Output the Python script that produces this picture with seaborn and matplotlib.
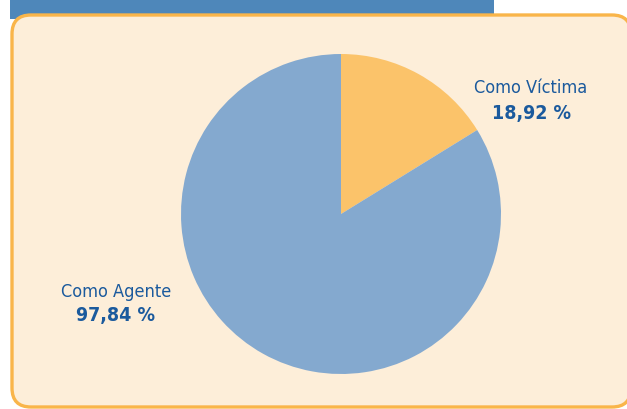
import matplotlib
matplotlib.use("Agg")
import matplotlib.pyplot as plt
from matplotlib.patches import FancyBboxPatch, Rectangle
import seaborn as sns

# data
categories = ["Como Víctima", "Como Agente"]
values = [18.92, 97.84]
value_labels = ["18,92 %", "97,84 %"]
slice_colors = ["#FBC36A", "#84A9CF"]

sns.set_style("white")
plt.rcParams["font.family"] = ["DejaVu Sans"]
plt.rcParams["font.stretch"] = "condensed"

W, H = 627, 410
fig = plt.figure(figsize=(W / 100, H / 100), dpi=100)
fig.patch.set_facecolor("white")

# background: top bar + rounded panel
bg = fig.add_axes([0, 0, 1, 1])
bg.set_xlim(0, W)
bg.set_ylim(H, 0)
bg.axis("off")
bg.add_patch(Rectangle((10, 0), 484, 20, facecolor="#4E87BA", edgecolor="none"))
bg.add_patch(FancyBboxPatch((12, 16), 619, 392, boxstyle="round,pad=0,rounding_size=19",
                            facecolor="#FDEED9", edgecolor="#F9B54A", linewidth=2.4))

# pie
cx, cy, r = 341, 215, 160
ax = fig.add_axes([(cx - r) / W, (H - cy - r) / H, 2 * r / W, 2 * r / H])
ax.pie(values, colors=slice_colors, startangle=90, counterclock=False,
       wedgeprops=dict(linewidth=0))
ax.set_xlim(-1, 1)
ax.set_ylim(-1, 1)
ax.set_aspect("equal")
ax.axis("off")

txt_color = "#1B5A9D"
label_pos = [(531, 88, 113), (116, 292, 316)]
for name, val, (x, y1, y2) in zip(categories, value_labels, label_pos):
    bg.text(x, y1, name, ha="center", va="center", fontsize=13, color=txt_color,
            fontstretch="condensed")
    bg.text(x, y2, val, ha="center", va="center", fontsize=14, color=txt_color,
            fontweight="bold", fontstretch="condensed")

fig.savefig("out.png", dpi=100)
